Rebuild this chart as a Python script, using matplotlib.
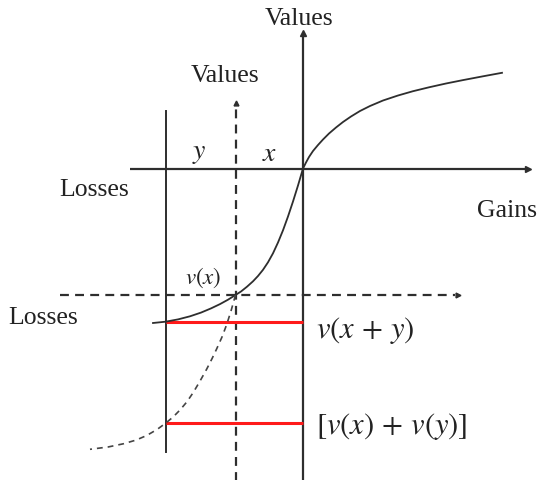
import matplotlib
matplotlib.use("Agg")
import matplotlib.pyplot as plt

plt.rcParams['mathtext.fontset'] = 'stix'

# ---- data (origin at the main axes' crossing) ----
# value function: losses (left of origin) and gains (right of origin)
curve_x = [-150, -137.5, -125, -113, -102, -92, -83, -75, -67.5, -62, -56, -50,
           -45, -40, -35, -30, -25, -20, -15, -10, -5, 0,
           3, 6, 10, 15, 20, 26, 33, 40, 48, 57, 67, 80, 95, 110, 126, 143, 160, 180, 199]
curve_v = [-154.5, -153.2, -150.9, -147.8, -144.1, -139.9, -135.6, -131.2, -126.5, -123.0,
           -118.2, -112.8, -107.5, -101.3, -93.8, -84.8, -74.0, -61.8, -48.0, -33.0, -17.0, 0,
           6, 11.5, 17.5, 23.5, 29, 35, 41, 46.5, 52, 57.5, 62.5, 68, 73, 77.3, 81.2,
           85, 88.4, 92.2, 95.7]
# value function re-drawn from the shifted origin (dashed)
shift_x = [-67.5, -72, -76.3, -81, -86.3, -91, -96.3, -103, -109.7, -116, -123, -130,
           -137.5, -146, -156.3, -167, -179.7, -195, -213]
shift_v = [-126.5, -142.5, -156, -168.5, -180.3, -190.2, -200.6, -212.6, -223.9, -233.2,
           -241.5, -248.6, -254.8, -261, -267, -271.6, -275.3, -278.5, -280.8]

loss_x = 67.5            # first loss  x
loss_y = 70.0            # second loss y
v_x = -126.5             # v(x)
v_xy = -153.0            # v(x + y)
v_x_plus_v_y = -254.5    # v(x) + v(y)

labels_axes = ["Values", "Losses", "Gains"]

# ---- figure ----
W, H = 542, 481
fig = plt.figure(figsize=(W / 100, H / 100), dpi=100)
ax = fig.add_axes([0, 0, 1, 1])
ax.set_xlim(-303, W - 303)
ax.set_ylim(169.5 - H, 169.5)
ax.axis('off')

dark = '#2e2e2e'
serif = ['Liberation Serif', 'DejaVu Serif']

# main axes
ax.plot([-173, 222], [0, 0], color=dark, lw=1.6, solid_capstyle='butt', zorder=2)
ax.plot([225], [0], marker='>', ms=4, color=dark, mec=dark, zorder=3)
ax.plot([0, 0], [-320, 133], color=dark, lw=1.6, solid_capstyle='butt', zorder=2)
ax.plot([0], [136], marker='^', ms=4, color=dark, mec=dark, zorder=3)

# left solid line at x + y
ax.plot([-(loss_x + loss_y)] * 2, [57.8, -283.5], color=dark, lw=1.4, zorder=2)

# shifted (dashed) axes
ax.plot([-loss_x, -loss_x], [-320, 63], color=dark, lw=1.6, ls=(0, (4, 2.8)), zorder=2)
ax.plot([-loss_x], [66], marker='^', ms=3.5, color=dark, mec=dark, zorder=3)
ax.plot([-243, 152], [v_x, v_x], color=dark, lw=1.6, ls=(0, (4, 2.8)), zorder=2)
ax.plot([155], [v_x], marker='>', ms=3.5, color=dark, mec=dark, zorder=3)

# value curves
ax.plot(curve_x, curve_v, color=dark, lw=1.3, solid_joinstyle='round', zorder=4)
ax.plot(shift_x, shift_v, color='#444444', lw=1.2, ls=(0, (3.5, 3)), zorder=4)

# red comparison lines
ax.plot([-(loss_x + loss_y), 0], [v_xy, v_xy], color='#ff1a1a', lw=2.2,
        solid_capstyle='butt', zorder=3)
ax.plot([-(loss_x + loss_y), 0], [v_x_plus_v_y, v_x_plus_v_y], color='#ff1a1a', lw=2.2,
        solid_capstyle='butt', zorder=3)

# texts
fs = 18.5
tc = '#222222'
ax.text(-4, 150.5, labels_axes[0], family=serif, fontsize=fs, ha='center', va='center', color=tc)
ax.text(-77.5, 93.5, labels_axes[0], family=serif, fontsize=fs, ha='center', va='center', color=tc)
ax.text(-209, -20.5, labels_axes[1], family=serif, fontsize=fs, ha='center', va='center', color=tc)
ax.text(-260, -148.5, labels_axes[1], family=serif, fontsize=fs, ha='center', va='center', color=tc)
ax.text(204.5, -41.5, labels_axes[2], family=serif, fontsize=fs, ha='center', va='center', color=tc)

ax.text(-103.5, 17.5, r'$y$', fontsize=20, ha='center', va='center', color=tc)
ax.text(-33, 16, r'$x$', fontsize=20, ha='center', va='center', color=tc)
ax.text(-100, -108.5, r'$v(x)$', fontsize=16.5, ha='center', va='center', color=tc)
ax.text(13, -161.5, r'$v(x\,+\,y)$', fontsize=22, ha='left', va='center', color=tc)
ax.text(13, -257, r'$[v(x)\,+\,v(y)]$', fontsize=22, ha='left', va='center', color=tc)

fig.savefig('out.png', dpi=100)
